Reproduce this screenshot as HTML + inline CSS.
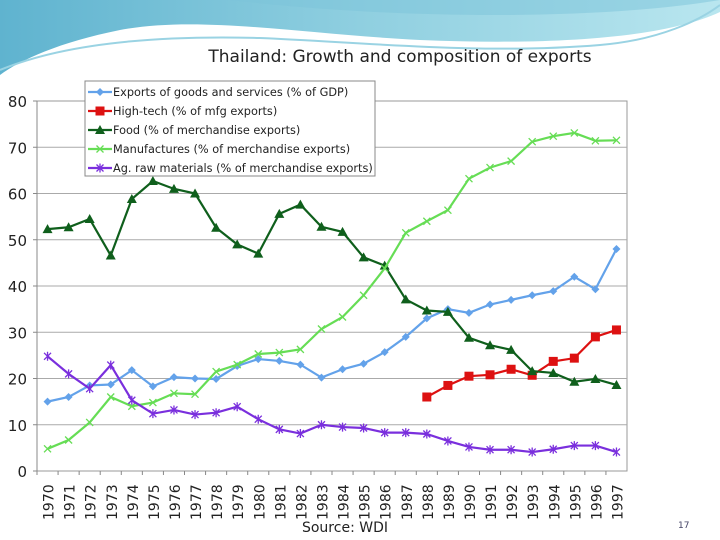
<!DOCTYPE html>
<html><head><meta charset="utf-8"><style>
html,body{margin:0;padding:0;background:#fff;}
svg{display:block;font-family:"DejaVu Sans","Liberation Sans",sans-serif;}
</style></head><body>
<svg id="c" width="720" height="540" viewBox="0 0 720 540">
<defs>
<linearGradient id="sw" x1="0" y1="0" x2="1" y2="0">
<stop offset="0" stop-color="#5fb3cf"/><stop offset="0.5" stop-color="#8fcfe0"/><stop offset="1" stop-color="#b9e6ef"/>
</linearGradient>
</defs>
<g>
<path d="M0,0 L720,0 L720,12 C660,40 540,45 420,40 C300,34 200,15 120,30 C60,42 20,60 0,75 Z" fill="url(#sw)"/>
<path d="M0,70 C60,45 150,35 260,38 C360,42 480,55 600,45 C660,40 700,20 720,5" fill="none" stroke="#9ad3e3" stroke-width="2"/>
<path d="M230,0 C400,20 600,20 720,0" fill="#7cc3da" opacity="0.5"/>
</g>
<text x="400" y="62" text-anchor="middle" font-size="17" fill="#222">Thailand: Growth and composition of exports</text>
<g id="plot"></g>
<text x="345" y="532" text-anchor="middle" font-size="14" fill="#222">Source: WDI</text>
<text x="678" y="528" font-size="9" fill="#446">17</text>
</svg>
<script>
const years=[1970,1971,1972,1973,1974,1975,1976,1977,1978,1979,1980,1981,1982,1983,1984,1985,1986,1987,1988,1989,1990,1991,1992,1993,1994,1995,1996,1997];
const exportsGdp=[15,16,18.5,18.7,21.8,18.3,20.3,20,19.9,22.7,24.2,23.8,23,20.2,22,23.2,25.7,29,33,35,34.2,36,37,38,38.9,42,39.3,48];
const highTech=[null,null,null,null,null,null,null,null,null,null,null,null,null,null,null,null,null,null,16,18.5,20.5,20.8,22,20.7,23.7,24.4,29,30.5];
const food=[52.3,52.7,54.5,46.6,58.8,62.7,61,60,52.6,49,47,55.6,57.6,52.8,51.7,46.2,44.4,37.1,34.7,34.4,28.8,27.2,26.2,21.6,21.2,19.3,19.9,18.6];
const manuf=[4.8,6.7,10.5,16,14,14.8,16.8,16.6,21.5,23,25.3,25.6,26.3,30.7,33.3,38,43.8,51.5,54,56.4,63.2,65.6,67,71.2,72.4,73.1,71.4,71.5];
const agRaw=[24.8,21,17.8,22.9,15.3,12.4,13.2,12.2,12.6,13.9,11.2,9,8.1,10,9.5,9.3,8.3,8.3,8,6.5,5.2,4.6,4.6,4.1,4.7,5.5,5.5,4.1];
const yTicks=[0,10,20,30,40,50,60,70,80];
const legendLabels=["Exports of goods and services (% of GDP)","High-tech (% of mfg exports)","Food (% of merchandise exports)","Manufactures (% of merchandise exports)","Ag. raw materials (% of merchandise exports)"];

const NS="http://www.w3.org/2000/svg";
const L=37,R=627,T=101,B=471;
const bw=(R-L)/years.length;
const xS=i=>L+bw*(i+0.5);
const yS=v=>B-(v/80)*(B-T);
const g=document.getElementById('plot');
function mk(t,a,p){const e=document.createElementNS(NS,t);for(const k in a)e.setAttribute(k,a[k]);(p||g).appendChild(e);return e;}

const bg=mk('rect',{x:L,y:T,width:R-L,height:B-T,fill:'#fff',stroke:'#999'});


yTicks.forEach(t=>{
  if(t>0&&t<80){const gl=mk('line',{x1:L,x2:R,y1:yS(t),y2:yS(t),stroke:'#aaa','stroke-width':1});
  
  }
  const tx=mk('text',{x:27,y:yS(t)+6,'text-anchor':'end','font-size':15,fill:'#222'});
  tx.textContent=t;
  
  
  mk('line',{x1:L-4,x2:L,y1:yS(t),y2:yS(t),stroke:'#888'});
});
mk('line',{x1:L,x2:L,y1:T,y2:B,stroke:'#888'});
years.forEach((y,i)=>{
  mk('line',{x1:L+bw*i,x2:L+bw*i,y1:B,y2:B+4,stroke:'#888'});
  const tx=mk('text',{transform:`translate(${xS(i)+6},${B+49}) rotate(-90)`,'font-size':14,fill:'#222'});
  tx.textContent=y;
  
  
});

function marker(p,type,x,y,col){
  if(type==='diamond')mk('path',{d:`M${x},${y-4}L${x+4},${y}L${x},${y+4}L${x-4},${y}Z`,fill:col},p);
  else if(type==='square')mk('rect',{x:x-4.5,y:y-4.5,width:9,height:9,fill:col},p);
  else if(type==='tri')mk('path',{d:`M${x},${y-5}L${x+5},${y+4}L${x-5},${y+4}Z`,fill:col},p);
  else if(type==='x'){mk('path',{d:`M${x-3.5},${y-3.5}L${x+3.5},${y+3.5}M${x-3.5},${y+3.5}L${x+3.5},${y-3.5}`,stroke:col,'stroke-width':1.3},p);}
  else {mk('path',{d:`M${x-3.5},${y-3.5}L${x+3.5},${y+3.5}M${x-3.5},${y+3.5}L${x+3.5},${y-3.5}M${x},${y-4.5}L${x},${y+4.5}`,stroke:col,'stroke-width':1.3},p);}
}
const series=[[exportsGdp,'#63a2ea','diamond','series-exports-gdp'],[highTech,'#dd1111','square','series-high-tech'],[food,'#0f5f1c','tri','series-food'],[manuf,'#66dd55','x','series-manufactures'],[agRaw,'#7a2fdd','star','series-ag-raw']];
series.forEach(([data,col,m,name])=>{
  const sg=mk('g',{});
  
  
  let d='';
  data.forEach((v,i)=>{if(v==null)return;d+=(d?'L':'M')+xS(i)+','+yS(v);});
  mk('path',{d:d,fill:'none',stroke:col,'stroke-width':2.2},sg);
  data.forEach((v,i)=>{if(v!=null)marker(sg,m,xS(i),yS(v),col);});
});
const lg=mk('g',{});


mk('rect',{x:85,y:81,width:290,height:95,fill:'#fff',stroke:'#888'},lg);
legendLabels.forEach((lab,i)=>{
  const y=92+i*19;
  const eg=mk('g',{},lg);
  
  
  mk('line',{x1:88,x2:112,y1:y,y2:y,stroke:series[i][1],'stroke-width':2.2},eg);
  marker(eg,series[i][2],100,y,series[i][1]);
  const t=mk('text',{x:113,y:y+4,'font-size':11.3,fill:'#222'},eg);
  t.textContent=lab;
});
</script>
</body></html>
